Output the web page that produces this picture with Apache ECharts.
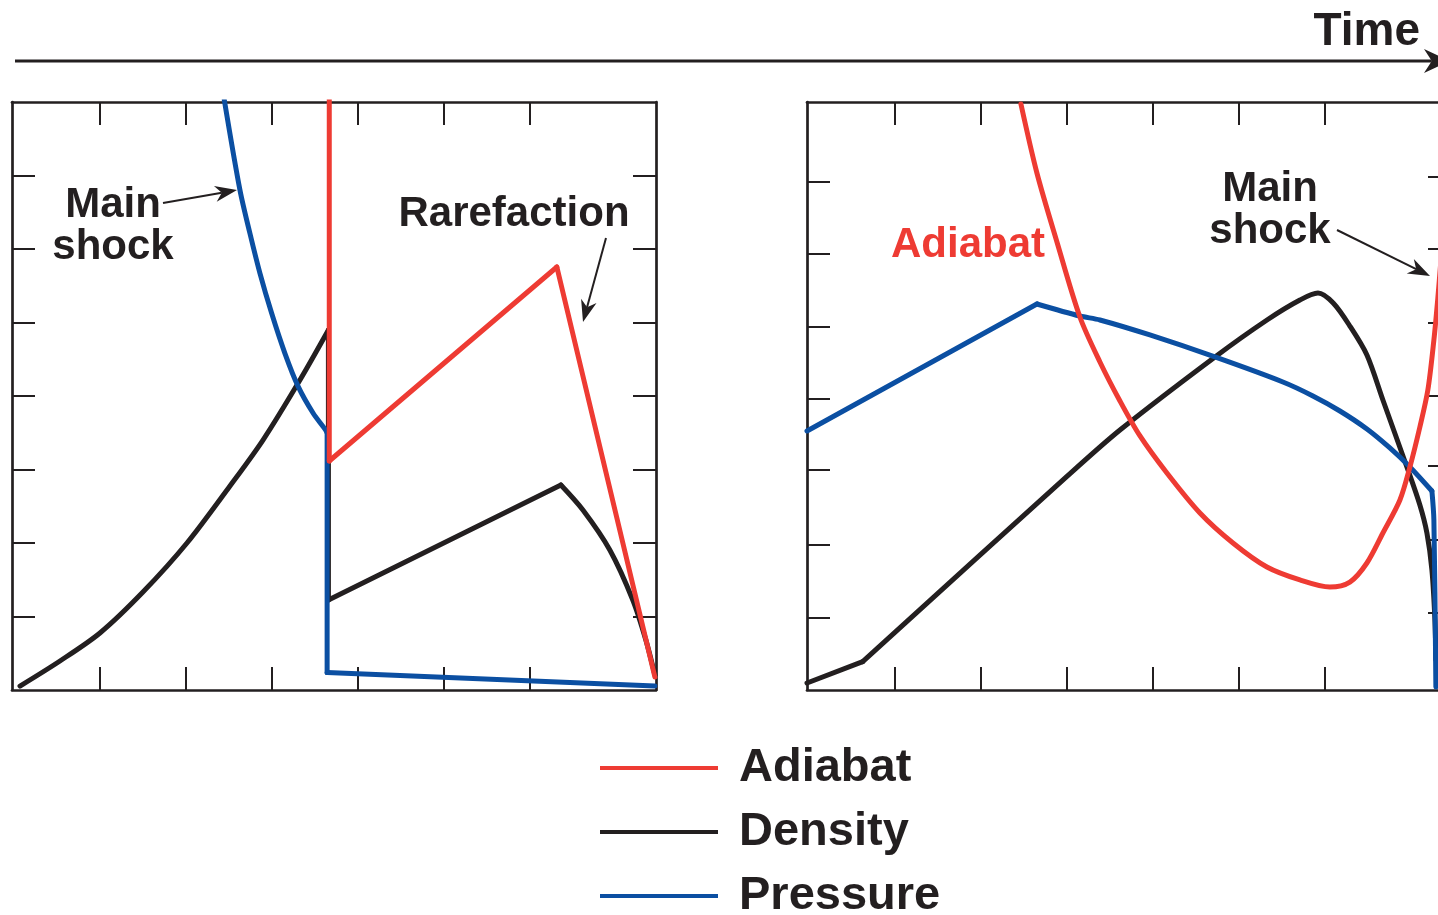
<!DOCTYPE html>
<html>
<head>
<meta charset="utf-8">
<script src="https://cdn.jsdelivr.net/npm/echarts@6/dist/echarts.min.js"></script>
<style>
  html, body { margin: 0; padding: 0; background: #ffffff; }
  #chart { width: 1438px; height: 915px; }
</style>
</head>
<body>
<div id="chart"></div>
<script>
// Series names, in legend order
const seriesNames = ['Adiabat', 'Density', 'Pressure'];

// Tick positions (x in time units, y in profile units)
const xTicks = [1, 2, 3, 4, 5, 6];
const yTicksLeftPanel = [1, 2, 3, 4, 5, 6, 7];
const yTicksRightPanelInner = [0.98, 1.97, 2.99, 3.96, 4.94, 5.93, 6.91];
const yTicksRightPanelOuter = [1.05, 2.04, 3.05, 4.01, 4.99, 6.0, 6.98];

// Left panel: main shock followed by a rarefaction
const adiabatLeft = [[3.67, 8.1], [3.67, 3.116], [6.317, 5.755], [7.457, 0.177]];
const adiabatLeftKinks = [1, 2];
const densityLeft = [
  [0.073, 0.054], [0.538, 0.395], [1.003, 0.776], [1.503, 1.333], [2.015, 2.0],
  [2.515, 2.776], [2.899, 3.401], [3.329, 4.218], [3.66, 4.898],
  [3.66, 1.224], [6.364, 2.789], [6.62, 2.449], [6.933, 1.905],
  [7.2, 1.224], [7.352, 0.68], [7.457, 0.204]
];
const densityLeftKinks = [8, 9, 10];
const pressureLeft = [
  [2.449, 8.03], [2.631, 6.803], [2.747, 6.214], [2.864, 5.669],
  [3.0, 5.125], [3.154, 4.581], [3.309, 4.127], [3.483, 3.765], [3.62, 3.55],
  [3.645, 3.497], [3.645, 0.238], [7.457, 0.054]
];
const pressureLeftKinks = [9, 10];

// Right panel: shaped compression ahead of the main shock
const adiabatRight = [
  [2.468, 7.973], [2.654, 7.034], [2.887, 6.095], [3.154, 5.075], [3.387, 4.463],
  [3.62, 3.932], [3.853, 3.456], [4.166, 2.952], [4.55, 2.408], [4.934, 2.0],
  [5.329, 1.673], [5.713, 1.497], [6.061, 1.401], [6.294, 1.469], [6.492, 1.728],
  [6.678, 2.136], [6.876, 2.585], [6.992, 3.034], [7.108, 3.578], [7.201, 4.082],
  [7.271, 4.762], [7.318, 5.347], [7.353, 5.85]
];
const adiabatRightKinks = [];
const densityRight = [
  [-0.02, 0.095], [0.628, 0.385], [3.0, 2.902], [3.62, 3.537],
  [4.725, 4.531], [5.33, 5.034], [5.713, 5.306], [5.923, 5.401], [6.1, 5.265],
  [6.294, 4.952], [6.492, 4.558], [6.678, 3.946], [6.957, 3.034],
  [7.108, 2.517], [7.19, 2.136], [7.248, 1.633], [7.283, 0.952], [7.294, 0.408]
];
const densityRightKinks = [1];
const pressureRight = [
  [-0.02, 3.524], [2.654, 5.252], [3.154, 5.088], [3.387, 5.034], [3.968, 4.83],
  [4.724, 4.531], [5.515, 4.19], [5.864, 4.0], [6.178, 3.796], [6.492, 3.551],
  [6.759, 3.293], [6.992, 3.034], [7.248, 2.707], [7.271, 2.313], [7.294, 0.041]
];
const pressureRightKinks = [1, 12];

const INK = '#231f20';
const RED = '#ee3b33';
const BLUE = '#0b4fa2';
const FONT = '"Liberation Sans", Arial, Helvetica, sans-serif';

const chart = echarts.init(document.getElementById('chart'), null, { renderer: 'canvas' });

function frameAxis(gridIndex, position, ticks, horizontal) {
  return {
    gridIndex: gridIndex,
    type: 'value',
    position: position,
    min: horizontal ? -0.02 : 0,
    max: horizontal ? 7.47 : 8,
    axisLine: { show: true, onZero: false, lineStyle: { color: INK, width: 2.7 } },
    axisTick: { show: true, inside: true, length: 23, customValues: ticks, lineStyle: { color: INK, width: 2 } },
    axisLabel: { show: false },
    splitLine: { show: false }
  };
}

// Break a profile at its kinks so curved stretches can be smoothed
// while corners stay sharp.
function pieces(data, kinks) {
  const out = [];
  let start = 0;
  kinks.concat([data.length - 1]).forEach(function (k) {
    if (k > start) out.push(data.slice(start, k + 1));
    start = k;
  });
  return out;
}

function profile(name, data, kinks, color, axisIndex, z) {
  return pieces(data, kinks).map(function (piece) {
    return {
      name: name,
      type: 'line',
      data: piece,
      xAxisIndex: axisIndex,
      yAxisIndex: axisIndex,
      symbol: 'none',
      showSymbol: false,
      smooth: piece.length > 2 ? 0.3 : false,
      clip: true,
      z: z,
      itemStyle: { color: color },
      lineStyle: { color: color, width: 5, join: 'round', cap: 'round' },
      emphasis: { disabled: true }
    };
  });
}

// Annotation arrow: shaft plus a notched, filled head
function arrow(x1, y1, x2, y2, width, headLen, headHalf) {
  const a = Math.atan2(y2 - y1, x2 - x1);
  const c = Math.cos(a), s = Math.sin(a);
  const bx = x2 - headLen * c, by = y2 - headLen * s;
  const nx = x2 - headLen * 0.7 * c, ny = y2 - headLen * 0.7 * s;
  return [
    { type: 'line', silent: true, shape: { x1: x1, y1: y1, x2: nx, y2: ny },
      style: { stroke: INK, lineWidth: width } },
    { type: 'polygon', silent: true,
      shape: { points: [[x2, y2], [bx - headHalf * s, by + headHalf * c], [nx, ny], [bx + headHalf * s, by - headHalf * c]] },
      style: { fill: INK } }
  ];
}

function label(text, x, baseline, size, color, align) {
  return {
    type: 'text', silent: true, x: x, y: baseline - size * 0.35,
    style: {
      text: text, fill: color, font: 'bold ' + size + 'px ' + FONT,
      textAlign: align || 'center', textVerticalAlign: 'middle'
    }
  };
}

const graphics = [].concat(
  arrow(15, 61, 1450, 61, 3, 26, 12),
  [label('Time', 1420, 48, 46, INK, 'right')],
  [label('Main', 113, 220, 42, INK), label('shock', 113, 262, 42, INK)],
  arrow(163, 203, 237, 190, 2, 22, 8),
  [label('Rarefaction', 514, 229, 42, INK)],
  arrow(606, 238, 583, 322, 2, 22, 8),
  [label('Adiabat', 968, 260, 42, RED)],
  [label('Main', 1270, 204, 42, INK), label('shock', 1270, 246, 42, INK)],
  arrow(1337, 230, 1430, 276, 2, 22, 8)
);

const option = {
  backgroundColor: '#ffffff',
  animation: false,
  grid: [
    { left: 12, top: 102, width: 644, height: 588, containLabel: false, outerBoundsMode: 'none' },
    { left: 807, top: 102, width: 644, height: 588, containLabel: false, outerBoundsMode: 'none' }
  ],
  xAxis: [
    frameAxis(0, 'bottom', xTicks, true),
    frameAxis(0, 'top', xTicks, true),
    frameAxis(1, 'bottom', xTicks, true),
    frameAxis(1, 'top', xTicks, true)
  ],
  yAxis: [
    frameAxis(0, 'left', yTicksLeftPanel, false),
    frameAxis(0, 'right', yTicksLeftPanel, false),
    frameAxis(1, 'left', yTicksRightPanelInner, false),
    frameAxis(1, 'right', yTicksRightPanelOuter, false)
  ],
  legend: {
    data: seriesNames,
    orient: 'vertical',
    left: 600,
    top: 743,
    height: 220,
    padding: 0,
    itemGap: 14,
    icon: 'rect',
    itemWidth: 118,
    itemHeight: 4,
    selectedMode: false,
    textStyle: {
      fontSize: 47, fontWeight: 'bold', color: INK, fontFamily: FONT,
      lineHeight: 50, padding: [0, 0, 0, 16]
    }
  },
  series: [].concat(
    profile('Density', densityLeft, densityLeftKinks, INK, 0, 2),
    profile('Pressure', pressureLeft, pressureLeftKinks, BLUE, 0, 3),
    profile('Adiabat', adiabatLeft, adiabatLeftKinks, RED, 0, 4),
    profile('Density', densityRight, densityRightKinks, INK, 2, 2),
    profile('Pressure', pressureRight, pressureRightKinks, BLUE, 2, 3),
    profile('Adiabat', adiabatRight, adiabatRightKinks, RED, 2, 4)
  ),
  graphic: graphics
};

chart.setOption(option);
</script>
</body>
</html>
